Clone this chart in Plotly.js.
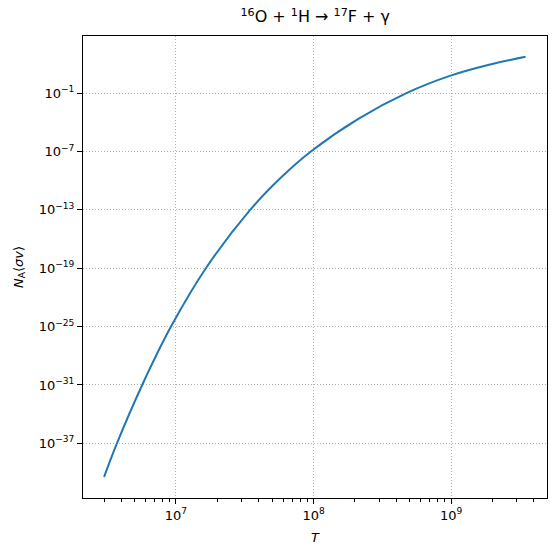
<!DOCTYPE html>
<html>
<head>
<meta charset="utf-8">
<script src="https://cdn.plot.ly/plotly-3.0.1.min.js"></script>
<style>
  body { margin: 0; background: #fff; }
  #myDiv { width: 557px; height: 556px; }
</style>
</head>
<body>
<div id="myDiv"></div>
<script>
// temperature (K) and rate values
var temps = [3.0e6, 3.72e6, 5.68e6, 9.20e6, 1.649e7, 3.46e7, 5.75e7, 9.56e7,
             2.13e8, 4.73e8, 9.90e8, 1.887e9, 3.48e9];
var rates = [3.5e-41, 1e-37, 1e-31, 1e-25, 1e-19, 1e-13, 1.87e-10, 1e-7,
             2.41e-4, 0.1, 6.27, 82.4, 533];

var xTickVals = [1e7, 1e8, 1e9];
var xTickText = ['10<sup>7</sup>', '10<sup>8</sup>', '10<sup>9</sup>'];
var yTickVals = [1e-37, 1e-31, 1e-25, 1e-19, 1e-13, 1e-7, 1e-1];
var yTickText = ['10<sup>\u221237</sup>', '10<sup>\u221231</sup>', '10<sup>\u221225</sup>', '10<sup>\u221219</sup>',
                 '10<sup>\u221213</sup>', '10<sup>\u22127</sup>', '10<sup>\u22121</sup>'];
var xMinor = [3e6, 4e6, 5e6, 6e6, 7e6, 8e6, 9e6,
              2e7, 3e7, 4e7, 5e7, 6e7, 7e7, 8e7, 9e7,
              2e8, 3e8, 4e8, 5e8, 6e8, 7e8, 8e8, 9e8,
              2e9, 3e9, 4e9];

var trace1 = {
    x: temps,
    y: rates,
    type: 'scatter',
    mode: 'lines',
    line: {color: '#1f77b4', width: 2, shape: 'spline', smoothing: 1}
};

var axisBase = {
    type: 'log',
    showline: true,
    linecolor: 'black',
    linewidth: 1,
    mirror: true,
    ticks: 'outside',
    ticklen: 5,
    tickcolor: 'black',
    tickmode: 'array',
    showgrid: true,
    gridcolor: '#b0b0b0',
    gridwidth: 1,
    griddash: '1px,2px',
    zeroline: false,
    tickfont: {family: 'DejaVu Sans', size: 13, color: 'black'}
};

var layout = {
    width: 557,
    height: 556,
    margin: {l: 83, r: 10, t: 36, b: 58, pad: 0},
    paper_bgcolor: 'white',
    plot_bgcolor: 'white',
    showlegend: false,
    title: {
        text: '<sup>16</sup>O + <sup>1</sup>H \u2192 <sup>17</sup>F + \u03b3',
        font: {family: 'DejaVu Sans', size: 16, color: 'black'},
        x: 0.566, xanchor: 'center', y: 0.97, yanchor: 'middle'
    },
    xaxis: Object.assign({}, axisBase, {
        range: [6.324, 9.697],
        tickvals: xTickVals,
        ticktext: xTickText,
        minor: {tickmode: 'array', tickvals: xMinor, ticks: 'outside', ticklen: 3, tickcolor: 'black', showgrid: false},
        title: {text: '<i>T</i>', font: {family: 'DejaVu Sans', size: 13, color: 'black'}, standoff: 11}
    }),
    yaxis: Object.assign({}, axisBase, {
        range: [-42.62, 4.87],
        tickvals: yTickVals,
        ticktext: yTickText,
        title: {text: '<i>N</i><sub>A</sub>\u27e8<i>\u03c3v</i>\u27e9', font: {family: 'DejaVu Sans', size: 13, color: 'black'}, standoff: 12}
    })
};

Plotly.newPlot('myDiv', [trace1], layout, {staticPlot: true});
</script>
</body>
</html>
